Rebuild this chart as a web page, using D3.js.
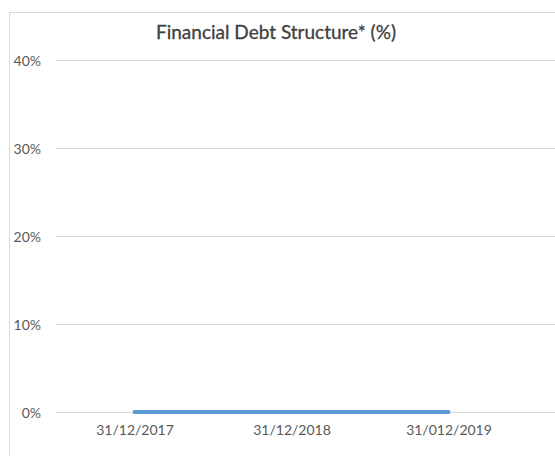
<!DOCTYPE html>
<html lang="en">
<head>
    <meta charset="UTF-8">
    <title>Financial Debt Structure</title>
    <script src="https://cdn.jsdelivr.net/npm/d3@7"></script>
    <style>
        body{ margin:0; background:#fff; }
        .titulo{
            font-family: 'Lato', sans-serif;
            font-size: 19px;
            fill: #404040;
            stroke: #404040;
            stroke-width: 0.3;
        }
        .axis text{
            font-family: 'Lato', sans-serif;
            font-size: 14px;
            fill: #595959;
        }
        .grid line{
            stroke: #d9d9d9;
            stroke-width: 1;
            shape-rendering: crispEdges;
        }
        .linea{
            fill: none;
            stroke: #5b9bd5;
            stroke-width: 4;
            stroke-linecap: round;
        }
    </style>
</head>
<body>
<div id="grafico"></div>
<script>
var w = 555;
var h = 456;

// datos
var categorias = ["31/12/2017", "31/12/2018", "31/012/2019"];
var valores = [0, 0, 0];
var ticksY = [0, 10, 20, 30, 40];

var xScale = d3.scalePoint()
    .domain(categorias)
    .range([56, 527])
    .padding(0.5);

var yScale = d3.scaleLinear()
    .domain([0, 40])
    .range([412, 60]);

var svg = d3.select("#grafico")
    .append("svg")
    .attr("width", w)
    .attr("height", h);

// marco
svg.append("rect")
    .attr("x", 9.5)
    .attr("y", 12.5)
    .attr("width", 600)
    .attr("height", 500)
    .attr("fill", "#fff")
    .attr("stroke", "#d9d9d9");

// titulo
svg.append("text")
    .attr("class", "titulo")
    .attr("x", 276)
    .attr("y", 39)
    .attr("text-anchor", "middle")
    .text("Financial Debt Structure* (%)");

// lineas de grilla
svg.append("g")
    .attr("class", "grid")
    .selectAll("line")
    .data(ticksY)
    .enter()
    .append("line")
    .attr("x1", 56)
    .attr("x2", w)
    .attr("y1", function(d){ return Math.round(yScale(d)) + 0.5; })
    .attr("y2", function(d){ return Math.round(yScale(d)) + 0.5; });

// eje Y
var yAxis = d3.axisLeft(yScale)
    .tickValues(ticksY)
    .tickSize(0)
    .tickPadding(0)
    .tickFormat(function(d){ return d + "%"; });

var ejeY = svg.append("g")
    .attr("class", "axis")
    .attr("transform", "translate(41,1)")
    .call(yAxis);
ejeY.select(".domain").remove();

// eje X
var xAxis = d3.axisBottom(xScale)
    .tickSize(0)
    .tickPadding(0);

var ejeX = svg.append("g")
    .attr("class", "axis")
    .attr("transform", "translate(0,425)")
    .call(xAxis);
ejeX.select(".domain").remove();

// serie
var line = d3.line()
    .x(function(d, i){ return xScale(categorias[i]); })
    .y(function(d){ return yScale(d); });

svg.append("path")
    .datum(valores)
    .attr("class", "linea")
    .attr("d", line);
</script>
</body>
</html>
